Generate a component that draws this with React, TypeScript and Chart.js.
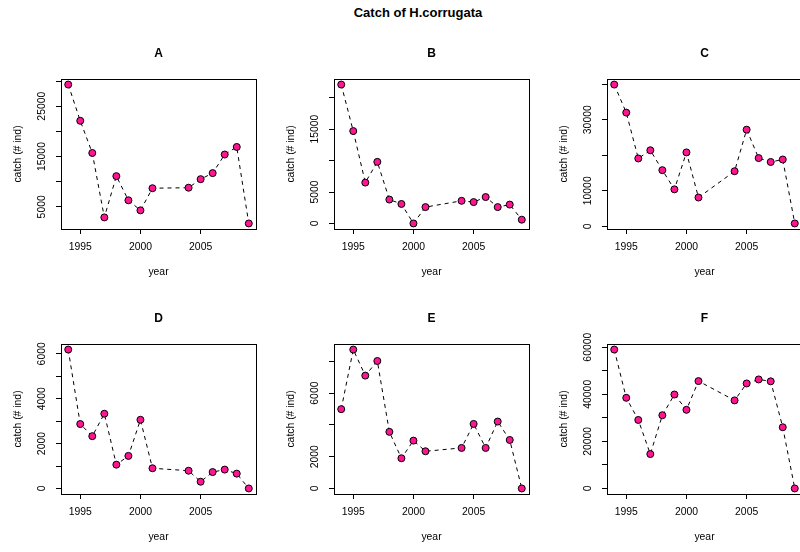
import React, { useEffect, useRef } from 'react';
import { Chart, registerables } from 'chart.js';

Chart.register(...registerables);

const mainTitle = 'Catch of H.corrugata';
const panelTitles = ['A', 'B', 'C', 'D', 'E', 'F'];
const xLabel = 'year';
const yLabel = 'catch (# ind)';

const years = [1994, 1995, 1996, 1997, 1998, 1999, 2000, 2001, 2004, 2005, 2006, 2007, 2008, 2009];

const catchA = [29300, 22100, 15700, 2900, 11100, 6300, 4300, 8700, 8800, 10500, 11700, 15400, 16900, 1700];
const catchB = [22100, 14700, 6500, 9800, 3800, 3100, 0, 2600, 3600, 3400, 4200, 2600, 3000, 600];
const catchC = [39900, 32000, 19100, 21400, 15800, 10400, 20800, 8100, 15500, 27200, 19200, 18100, 18800, 800];
const catchD = [6190, 2870, 2330, 3330, 1060, 1450, 3060, 900, 790, 300, 730, 840, 660, 0];
const catchE = [4990, 8740, 7100, 8020, 3560, 1900, 3010, 2340, 2550, 4060, 2550, 4210, 3050, 0];
const catchF = [59000, 38500, 29100, 14600, 31100, 39900, 33400, 45600, 37400, 44600, 46300, 45500, 26000, 0];

const xTicks = [1995, 2000, 2005];

const yTicksA = [5000, 10000, 15000, 20000, 25000, 30000];
const yLabelsA = [5000, 15000, 25000];
const yTicksB = [0, 5000, 10000, 15000, 20000];
const yLabelsB = [0, 5000, 15000];
const yTicksC = [0, 10000, 20000, 30000, 40000];
const yLabelsC = [0, 10000, 30000];
const yTicksD = [0, 1000, 2000, 3000, 4000, 5000, 6000];
const yLabelsD = [0, 2000, 4000, 6000];
const yTicksE = [0, 2000, 4000, 6000, 8000];
const yLabelsE = [0, 2000, 6000];
const yTicksF = [0, 10000, 20000, 30000, 40000, 50000, 60000];
const yLabelsF = [0, 20000, 40000, 60000];

const panelValues = [catchA, catchB, catchC, catchD, catchE, catchF];
const panelYTicks = [yTicksA, yTicksB, yTicksC, yTicksD, yTicksE, yTicksF];
const panelYLabels = [yLabelsA, yLabelsB, yLabelsC, yLabelsD, yLabelsE, yLabelsF];

const FONT = "'Liberation Sans', Arial, Helvetica, sans-serif";
const TICK_SIZE = 10.4;
const COL_LEFT = [0, 273, 546];
const ROW_TOP = [0, 265];
const CW = 274;
const CH = 287;

function range4(lo: number, hi: number): [number, number] {
  const d = (hi - lo) * 0.04;
  return [lo - d, hi + d];
}

const boxAndLabels = {
  id: 'rbox',
  afterDraw(chart: any) {
    const { ctx, chartArea } = chart;
    const ys = chart.scales.y;
    const opts = chart.options.plugins.rbox;
    const labels: number[] = opts.labels;
    ctx.save();
    ctx.strokeStyle = '#000';
    ctx.lineWidth = 1;
    const l = Math.round(chartArea.left) + 0.5;
    const t = Math.round(chartArea.top) + 0.5;
    const r = Math.round(chartArea.right) + 0.5;
    const b = Math.round(chartArea.bottom) + 0.5;
    ctx.strokeRect(l, t, r - l, b - t);
    ctx.fillStyle = '#000';
    ctx.font = `${TICK_SIZE}px ${FONT}`;
    ctx.textAlign = 'center';
    ctx.textBaseline = 'middle';
    for (const v of labels) {
      const y = ys.getPixelForValue(v);
      ctx.save();
      ctx.translate(chartArea.left - 19, y);
      ctx.rotate(-Math.PI / 2);
      ctx.fillText(String(v), 0, 0);
      ctx.restore();
    }
    ctx.font = `bold 12px ${FONT}`;
    ctx.fillText(opts.title, (chartArea.left + chartArea.right) / 2, chartArea.top - 25.5);
    ctx.restore();
  },
};

function Panel({ index }: { index: number }) {
  const ref = useRef<HTMLCanvasElement>(null);
  useEffect(() => {
    if (!ref.current) return;
    const values = panelValues[index];
    const yT = panelYTicks[index];
    const [xmin, xmax] = range4(Math.min(...years), Math.max(...years));
    const [ymin, ymax] = range4(Math.min(...values), Math.max(...values));
    const chart = new Chart(ref.current, {
      type: 'line',
      data: {
        datasets: [
          {
            data: years.map((yr, i) => ({ x: yr, y: values[i] })),
            borderColor: '#000',
            borderWidth: 1,
            borderDash: [4, 4],
            tension: 0,
            pointRadius: 3.5,
            pointBackgroundColor: '#FF1493',
            pointBorderColor: '#000',
            pointBorderWidth: 1,
            clip: false,
          } as any,
        ],
      },
      options: {
        responsive: false,
        animation: false,
        events: [],
        layout: { padding: { left: 0, right: 18, top: 79, bottom: 0 } },
        plugins: {
          legend: { display: false },
          tooltip: { enabled: false },
          title: { display: false },
          rbox: { labels: panelYLabels[index], title: panelTitles[index] },
        } as any,
        scales: {
          x: {
            type: 'linear',
            min: xmin,
            max: xmax,
            afterBuildTicks: (s: any) => {
              s.ticks = xTicks.map((v) => ({ value: v }));
            },
            afterFit: (s: any) => {
              s.height = CH - 229;
            },
            ticks: {
              autoSkip: false,
              maxRotation: 0,
              minRotation: 0,
              color: '#000',
              padding: 7,
              font: { family: FONT, size: TICK_SIZE },
              callback: (v: any) => String(v),
            },
            grid: {
              drawOnChartArea: false,
              drawTicks: true,
              tickLength: 5,
              color: '#000',
              lineWidth: 1,
            },
            border: { display: false },
            title: {
              display: true,
              text: xLabel,
              color: '#000',
              font: { family: FONT, size: TICK_SIZE },
              padding: { top: 0, bottom: 9 },
            },
          },
          y: {
            type: 'linear',
            min: ymin,
            max: ymax,
            afterBuildTicks: (s: any) => {
              s.ticks = yT.map((v) => ({ value: v }));
            },
            afterFit: (s: any) => {
              s.width = 61;
            },
            ticks: { display: false, autoSkip: false },
            grid: {
              drawOnChartArea: false,
              drawTicks: true,
              tickLength: 5,
              color: '#000',
              lineWidth: 1,
            },
            border: { display: false },
            title: {
              display: true,
              text: yLabel,
              color: '#000',
              font: { family: FONT, size: TICK_SIZE },
              padding: { top: 12, bottom: 0 },
            },
          },
        },
      } as any,
      plugins: [boxAndLabels],
    });
    return () => chart.destroy();
  }, [index]);
  const col = index % 3;
  const row = Math.floor(index / 3);
  return (
    <canvas
      ref={ref}
      width={CW}
      height={CH}
      style={{
        position: 'absolute',
        left: COL_LEFT[col],
        top: ROW_TOP[row],
        width: CW,
        height: CH,
      }}
    />
  );
}

export default function App() {
  return (
    <div
      style={{
        position: 'fixed',
        left: 0,
        top: 0,
        width: 800,
        height: 552,
        overflow: 'hidden',
        background: '#fff',
      }}
    >
      <div
        style={{
          position: 'absolute',
          left: 418,
          top: 6,
          transform: 'translateX(-50%)',
          whiteSpace: 'nowrap',
          fontFamily: FONT,
          fontWeight: 'bold',
          fontSize: 13,
          lineHeight: '13px',
          color: '#000',
        }}
      >
        {mainTitle}
      </div>
      {panelTitles.map((_, i) => (
        <Panel key={i} index={i} />
      ))}
    </div>
  );
}
